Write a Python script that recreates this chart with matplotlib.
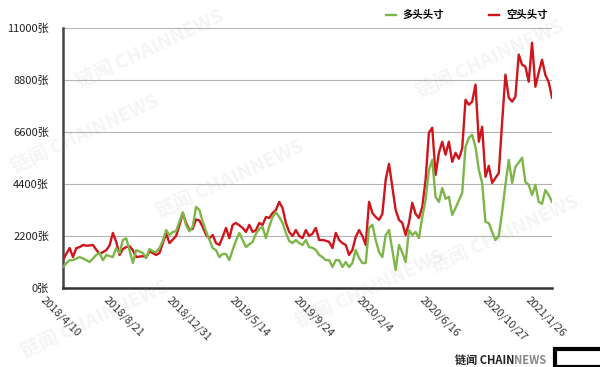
import numpy as np
import pandas as pd
import matplotlib
matplotlib.use("Agg")
import matplotlib.pyplot as plt
from matplotlib.transforms import ScaledTranslation
from matplotlib.patches import Rectangle

plt.rcParams['font.family'] = ['Noto Sans CJK SC', 'DejaVu Sans']

# 每周数据 (2018/4/10 起)
fechas = pd.date_range("2018-04-10", periods=148, freq="7D")

kong = [1185, 1450, 1690, 1310, 1690, 1730, 1820, 1790, 1800, 1820,
        1620, 1440, 1520, 1600, 1800, 2330, 1950, 1400, 1650, 1730,
        1770, 1600, 1310, 1330, 1350, 1300, 1550, 1480, 1400, 1480,
        1900, 2300, 1900, 2050, 2200, 2650, 3170, 2750, 2450, 2500,
        2900, 2850, 2580, 2250, 2100, 2240, 1900, 1820, 2160, 2540,
        2110, 2670, 2750, 2650, 2540, 2370, 2670, 2370, 2450, 2750,
        2670, 3000, 2960, 3170, 3300, 3640, 3380, 2750, 2370, 2200,
        2450, 2200, 2110, 2450, 2200, 2300, 2540, 2030, 2030, 2000,
        1950, 1690, 2330, 2030, 1900, 1820, 1400, 1610, 2160, 2450,
        2200, 1820, 3640, 3170, 3000, 2880, 3130, 4570, 5245, 4270,
        3300, 2880, 2750, 2240, 2750, 3600, 3130, 2960, 3430, 4570,
        6560, 6770, 4780, 5710, 6180, 5630, 6180, 5330, 5710, 5460,
        5890, 7950, 7740, 7870, 8590, 6180, 6810, 4700, 5160, 4440,
        4650, 4860, 6980, 9010, 8040, 7870, 8080, 9860, 9430, 9350,
        8710, 10360, 8500, 9100, 9640, 9000, 8700, 8040]

duo = [890, 1050, 1180, 1180, 1250, 1310, 1250, 1180, 1100, 1250,
       1400, 1480, 1180, 1400, 1350, 1310, 1690, 1480, 2030, 2100,
       1600, 1060, 1600, 1550, 1480, 1270, 1650, 1550, 1520, 1690,
       2000, 2450, 2240, 2370, 2400, 2800, 3200, 2650, 2400, 2600,
       3430, 3300, 2800, 2400, 2050, 1690, 1600, 1310, 1440, 1440,
       1180, 1610, 2000, 2330, 2030, 1730, 1850, 1950, 2300, 2500,
       2580, 2110, 2600, 3000, 3200, 3000, 2750, 2330, 1990, 1900,
       2030, 1900, 1820, 2030, 1730, 1700, 1610, 1400, 1310, 1180,
       1180, 890, 1180, 1180, 890, 1100, 890, 1060, 1610, 1270,
       1060, 1060, 2540, 2670, 2030, 1520, 1310, 2240, 2450, 1610,
       760, 1820, 1500, 1100, 2450, 2240, 2370, 2110, 3000, 3720,
       4990, 5410, 3850, 3640, 4230, 3770, 3850, 3090, 3380, 3700,
       4020, 5960, 6340, 6470, 5960, 4990, 4440, 2790, 2750, 2370,
       2030, 2200, 3210, 4360, 5410, 4440, 5120, 5300, 5500, 4480,
       4360, 3930, 4360, 3640, 3560, 4140, 3930, 3640]

etiquetas = ["2018/4/10", "2018/8/21", "2018/12/31", "2019/5/14", "2019/9/24",
             "2020/2/4", "2020/6/16", "2020/10/27", "2021/1/26"]
pos_etiquetas = [0, 19, 38, 57, 76, 95, 114, 133, 146]

yticks = [0, 2200, 4400, 6600, 8800, 11000]

x = np.arange(len(fechas))

fig = plt.figure(figsize=(6, 3.67), dpi=100)
ax = fig.add_axes([0.105, 0.215, 0.815, 0.71])

ax.plot(x, kong, color="#cf141c", lw=1.7, label="空头头寸", zorder=3)
ax.plot(x, duo, color="#7db548", lw=1.7, label="多头头寸", zorder=4)

ax.set_xlim(0, len(fechas) - 1)
ax.set_ylim(0, 11000)
ax.set_yticks(yticks)
ax.set_yticklabels([f"{v}张" for v in yticks], fontsize=8, color="#222222")
ax.grid(axis="y", color="#b4b4b4", lw=0.8)
ax.set_axisbelow(True)

for s in ["top", "right"]:
    ax.spines[s].set_visible(False)
ax.spines["left"].set_color("#444444")
ax.spines["left"].set_linewidth(1.8)
ax.spines["bottom"].set_color("#333333")
ax.spines["bottom"].set_linewidth(1.8)

ax.tick_params(axis="y", length=0, pad=10)
ax.tick_params(axis="x", length=0, pad=7)
ax.set_xticks(pos_etiquetas)
ax.set_xticklabels(etiquetas, rotation=-45, ha="left", va="center",
                   rotation_mode="anchor", fontsize=8, color="#333333")
offset = ScaledTranslation(-21 / 100, 0, fig.dpi_scale_trans)
for lab in ax.get_xticklabels():
    lab.set_transform(lab.get_transform() + offset)

h, l = ax.get_legend_handles_labels()
ax.legend(h[::-1], l[::-1], ncol=2, loc="center", bbox_to_anchor=(0.778, 0.959),
          bbox_transform=fig.transFigure, frameon=False,
          handlelength=0.9, handletextpad=0.7, columnspacing=4.3,
          prop={"weight": "bold", "size": 7.5})

# marcas de agua
marcas = [(150, 50), (490, 60), (85, 135), (230, 180), (370, 290), (95, 320), (505, 235)]
for px, py in marcas:
    fig.text(px / 600, 1 - py / 367, "链闻 CHAINNEWS", fontsize=14, fontweight="bold",
             color="#999999", alpha=0.10, rotation=25, ha="center", va="center")

logo = fig.text(455 / 600, 1 - 360 / 367, "链闻 CHAIN", fontsize=8, fontweight="bold",
                color="#222222", ha="left", va="center")
ax.annotate("NEWS", xy=(1, 0.5), xycoords=logo, ha="left", va="center",
            fontsize=8, fontweight="bold", color="#888888", annotation_clip=False)
fig.patches.append(Rectangle((555 / 600, 0), 50 / 600, 18 / 367, transform=fig.transFigure,
                             facecolor="white", edgecolor="black", lw=3))

fig.savefig("out.png", dpi=100, facecolor="white")
